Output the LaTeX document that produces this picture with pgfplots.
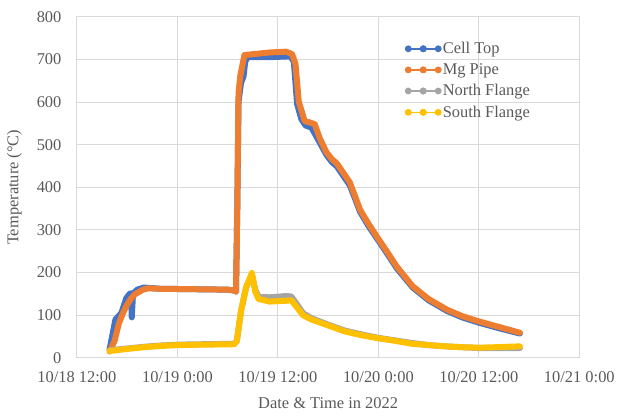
\documentclass[border=0pt]{standalone}
\usepackage{fontspec}
\setmainfont{Liberation Serif}
\usepackage{pgfplots}
\pgfplotsset{compat=1.18}

\definecolor{celltop}{HTML}{4472C4}
\definecolor{mgpipe}{HTML}{ED7D31}
\definecolor{northfl}{HTML}{A5A5A5}
\definecolor{southfl}{HTML}{FFC000}
\definecolor{gridgrey}{HTML}{D9D9D9}
\definecolor{txtgrey}{HTML}{595959}

\newcommand{\chartfont}{\fontsize{16.5}{20}\selectfont}

\begin{document}
\begin{tikzpicture}
\begin{axis}[
  scale only axis,
  width=503bp, height=341.6bp,
  xmin=0, xmax=60, ymin=0, ymax=800,
  xtick={0,12,...,60},
  xticklabels={10/18 12:00, 10/19 0:00, 10/19 12:00, 10/20 0:00, 10/20 12:00, 10/21 0:00},
  ytick={0,100,...,800},
  grid=major,
  major grid style={gridgrey, line width=0.9bp},
  axis line style={gridgrey, line width=0.9bp},
  tick style={draw=none},
  /pgf/number format/assume math mode=true,
  ticklabel style={font=\chartfont, text=txtgrey},
  yticklabel style={xshift=-12bp},
  xticklabel style={yshift=-10bp},
  xlabel={Date \& Time in 2022},
  ylabel={Temperature (°C)},
  label style={font=\chartfont, text=txtgrey},
  xlabel style={yshift=-8bp},
  ylabel style={yshift=8bp},
  legend style={draw=none, fill=none, font=\chartfont, text=txtgrey,
    at={(rel axis cs:0.648,0.937)}, anchor=north west,
    row sep=4.5bp},
  legend cell align=left,
  legend image code/.code={
    \draw[#1] plot coordinates {(0bp,0bp) (15bp,0bp) (30bp,0bp)};
    \draw[#1, mark repeat=2, mark phase=2] plot coordinates {(0bp,0bp) (15bp,0bp) (30bp,0bp)};
  },
  every axis plot/.append style={line join=round, line cap=round},
]

% Cell Top thermocouple (hours after 10/18 12:00, deg C)
\addplot[celltop, line width=6bp, forget plot] coordinates {
(3.9,20) (4.3,60) (4.6,90) (5.3,105) (5.9,140) (6.3,150) (6.45,152) (6.55,95) (6.7,150)
(7.2,160) (8.0,165) (10,162) (14,161) (18,160) (18.8,158) (19.0,155)
(19.15,350) (19.3,600) (19.6,645) (19.9,660) (20.1,695) (20.4,705) (23,705) (25.5,707)
(25.9,695) (26.3,595) (26.8,560) (27.3,545) (28,540) (29,505) (29.8,476) (30.5,458)
(31.0,450) (31.6,433) (32.3,413) (32.6,404) (33.2,374) (33.8,343) (34.8,310) (35.8,281)
(37,246) (38.2,210) (40.1,165) (42,135) (44.2,110) (46,95) (48.1,82) (50.5,69) (52.9,57)
};
% Mg Pipe
\addplot[mgpipe, line width=6bp, forget plot] coordinates {
(3.9,15) (4.5,40) (5.0,80) (5.5,105) (6.0,125) (6.5,140) (7.0,150) (7.9,160) (8.5,163)
(10,162) (14,161) (18,160) (18.8,158) (19.0,155)
(19.15,350) (19.3,620) (19.5,660) (19.8,690) (20.0,710) (21,712) (23,716) (25,718)
(25.7,712) (26.1,690) (26.5,600) (26.9,575) (27.2,555) (27.8,552) (28.4,548) (29.0,515)
(29.8,482) (30.5,465) (31.0,457) (31.6,440) (32.3,420) (32.6,411) (33.2,380) (33.8,348)
(34.8,315) (35.8,285) (37,250) (38.2,214) (40.1,168) (42,138) (44.2,113) (46,98)
(48.1,85) (50.5,72) (52.9,59)
};
% North Flange
\addplot[northfl, line width=6bp, forget plot] coordinates {
(3.9,18) (6,22) (8,26) (10,29) (12,31) (15,32) (18.8,33) (19.1,40) (19.6,110) (20.2,165)
(20.9,195) (21.3,160) (21.7,143) (23,142) (25,145) (25.6,144) (26.3,125) (27,105) (28,93)
(30,78) (32,64) (34,55) (36,47) (38,41) (40,35) (42,30) (44,27) (46,25) (48,23) (50,23)
(52.9,23)
};
% South Flange
\addplot[southfl, line width=6bp, forget plot] coordinates {
(3.9,16) (6,21) (8,25) (10,28) (12,30) (15,31) (18.8,32) (19.1,40) (19.6,110) (20.2,165)
(20.9,199) (21.3,155) (21.7,138) (23,132) (25,134) (25.6,135) (26.3,118) (27,100) (28,90)
(30,76) (32,62) (34,53) (36,46) (38,40) (40,33) (42,30) (44,27) (46,25) (48,24) (50,25)
(52.9,27)
};

\addlegendimage{celltop, line width=1.6bp, mark=*, mark size=2.6bp}
\addlegendentry{Cell Top}
\addlegendimage{mgpipe, line width=1.6bp, mark=*, mark size=2.6bp}
\addlegendentry{Mg Pipe}
\addlegendimage{northfl, line width=1.6bp, mark=*, mark size=2.6bp}
\addlegendentry{North Flange}
\addlegendimage{southfl, line width=1.6bp, mark=*, mark size=2.6bp}
\addlegendentry{South Flange}
\end{axis}
\path ([xshift=-77bp,yshift=-57.7bp]current axis.south west)
  rectangle ([xshift=38bp,yshift=16.7bp]current axis.north east);
\end{tikzpicture}
\end{document}
